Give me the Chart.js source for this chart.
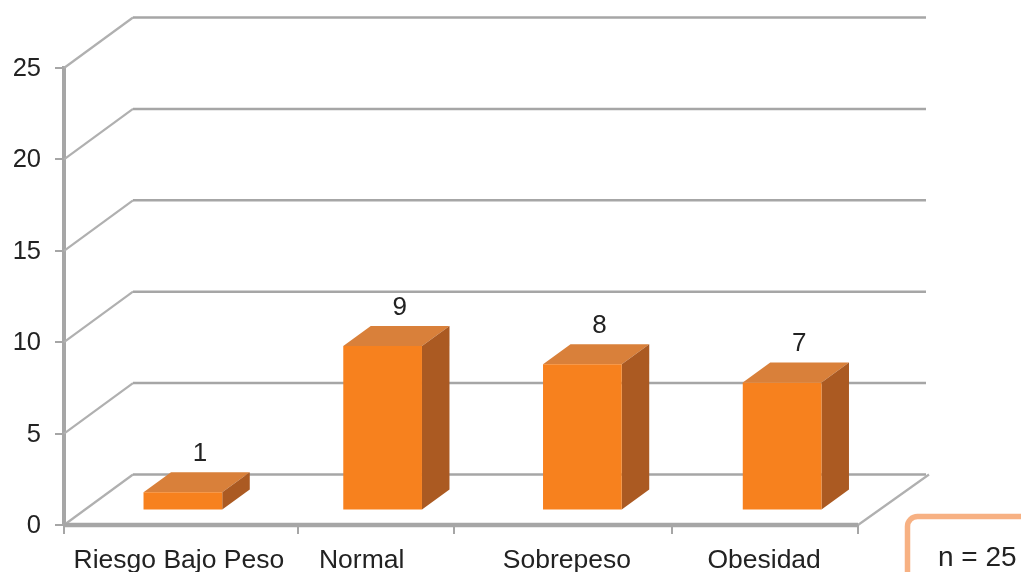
<!DOCTYPE html>
<html>
<head>
<meta charset="utf-8">
<title>Estado nutricional</title>
<script src="https://cdn.jsdelivr.net/npm/chart.js@4"></script>
<style>
  html, body { margin: 0; background: #fff; overflow: hidden; }
  canvas { display: block; }
</style>
</head>
<body>
<canvas id="nutritionChart" width="1021" height="572"></canvas>
<script>
const categories = ['Riesgo Bajo Peso', 'Normal', 'Sobrepeso', 'Obesidad'];
const counts = [1, 9, 8, 7];
const yTicks = [0, 5, 10, 15, 20, 25];
const sampleNote = 'n = 25';

const axisGray = '#a6a6a6';
const textColor = '#222222';
const fontName = '"Liberation Sans", Arial, sans-serif';

// depth of the fake 3D box, in pixels
const wall = { dx: 69, dy: -50.5 };
const barShift = { dx: 19, dy: -14.5 };
const barDepth = { dx: 27.5, dy: -20 };

// the floor stops a little short of the category scale's right end
const floorInset = 5;

// hand placement of the category labels and tick marks along the floor edge
const labelNudge = [15, -2, 3.5, 1];
const tickStops = [0, 234, 390, 608, 794];

function line(ctx, pts, color, width) {
  ctx.beginPath();
  pts.forEach((p, i) => i ? ctx.lineTo(p[0], p[1]) : ctx.moveTo(p[0], p[1]));
  ctx.strokeStyle = color;
  ctx.lineWidth = width;
  ctx.stroke();
}

function face(ctx, pts, color) {
  ctx.beginPath();
  pts.forEach((p, i) => i ? ctx.lineTo(p[0], p[1]) : ctx.moveTo(p[0], p[1]));
  ctx.closePath();
  ctx.fillStyle = color;
  ctx.fill();
}

const box3d = {
  id: 'box3d',
  beforeDatasetsDraw(chart) {
    const { ctx, chartArea, scales } = chart;
    const left = chartArea.left, right = chartArea.right - floorInset;
    ctx.save();
    yTicks.forEach(v => {
      const y = scales.y.getPixelForValue(v);
      line(ctx, [[left, y], [left + wall.dx, y + wall.dy]], '#b0b0b0', 2.2);
      line(ctx, [[left + wall.dx, y + wall.dy], [right + wall.dx - 1, y + wall.dy]], axisGray, 2.5);
    });
    const y0 = scales.y.getPixelForValue(0);
    // right edge of the floor and its front edge
    line(ctx, [[right, y0], [right + wall.dx + 2, y0 + wall.dy]], '#b0b0b0', 2.2);
    line(ctx, [[left, y0], [right, y0]], axisGray, 4.5);
    // tick marks under the floor edge
    tickStops.forEach(t => {
      line(ctx, [[left + t, y0], [left + t, y0 + 9]], axisGray, 2);
    });
    ctx.restore();
  },
  beforeDatasetDraw(chart, args) {
    const { ctx } = chart;
    ctx.save();
    ctx.translate(barShift.dx, barShift.dy);
    args.meta.data.forEach(bar => {
      const l = bar.x - bar.width / 2, r = bar.x + bar.width / 2;
      const top = bar.y, bottom = bar.base;
      face(ctx, [[l, top], [r, top], [r + barDepth.dx, top + barDepth.dy], [l + barDepth.dx, top + barDepth.dy]], '#d9803a');
      face(ctx, [[r, top], [r + barDepth.dx, top + barDepth.dy], [r + barDepth.dx, bottom + barDepth.dy], [r, bottom]], '#ab5a22');
    });
  },
  afterDatasetDraw(chart) {
    chart.ctx.restore();
  },
  afterDatasetsDraw(chart) {
    const { ctx, scales, chartArea } = chart;
    const meta = chart.getDatasetMeta(0);
    ctx.save();
    ctx.fillStyle = textColor;
    ctx.textBaseline = 'middle';

    // y axis numbers
    ctx.font = '25.5px ' + fontName;
    ctx.textAlign = 'right';
    scales.y.ticks.forEach(t => {
      ctx.fillText(t.value, 41, scales.y.getPixelForValue(t.value) + 1);
    });

    // value above each box
    ctx.font = '26px ' + fontName;
    ctx.textAlign = 'center';
    meta.data.forEach((bar, i) => {
      ctx.fillText(counts[i], bar.x + barShift.dx + 17, bar.y - 53);
    });

    // category names
    ctx.font = '26.5px ' + fontName;
    categories.forEach((name, i) => {
      ctx.fillText(name, scales.x.getPixelForValue(i) + labelNudge[i], chartArea.bottom + 36);
    });

    // sample size box, runs off the page on the right and bottom
    ctx.beginPath();
    ctx.roundRect(907.5, 516.5, 140, 90, 10);
    ctx.strokeStyle = '#f7b183';
    ctx.lineWidth = 5.5;
    ctx.stroke();
    ctx.font = '28px ' + fontName;
    ctx.textAlign = 'left';
    ctx.fillText(sampleNote, 938, 558);
    ctx.restore();
  }
};

new Chart(document.getElementById('nutritionChart'), {
  type: 'bar',
  data: {
    labels: categories,
    datasets: [{
      data: counts,
      backgroundColor: '#f7811e',
      barPercentage: 0.394,
      categoryPercentage: 1,
      clip: false
    }]
  },
  options: {
    responsive: false,
    animation: false,
    layout: { padding: { top: 68, right: 158, left: 0, bottom: 0 } },
    plugins: { legend: { display: false }, tooltip: { enabled: false } },
    scales: {
      x: {
        afterFit(scale) { scale.height = 47; },
        border: { display: false },
        grid: { display: false },
        ticks: { display: false }
      },
      y: {
        min: 0,
        max: 25,
        afterFit(scale) { scale.width = 64; },
        afterBuildTicks(scale) { scale.ticks = yTicks.map(value => ({ value })); },
        border: { color: axisGray, width: 4 },
        grid: { drawOnChartArea: false, color: axisGray, lineWidth: 2, tickLength: 9 },
        ticks: { display: false }
      }
    }
  },
  plugins: [box3d]
});
</script>
</body>
</html>
